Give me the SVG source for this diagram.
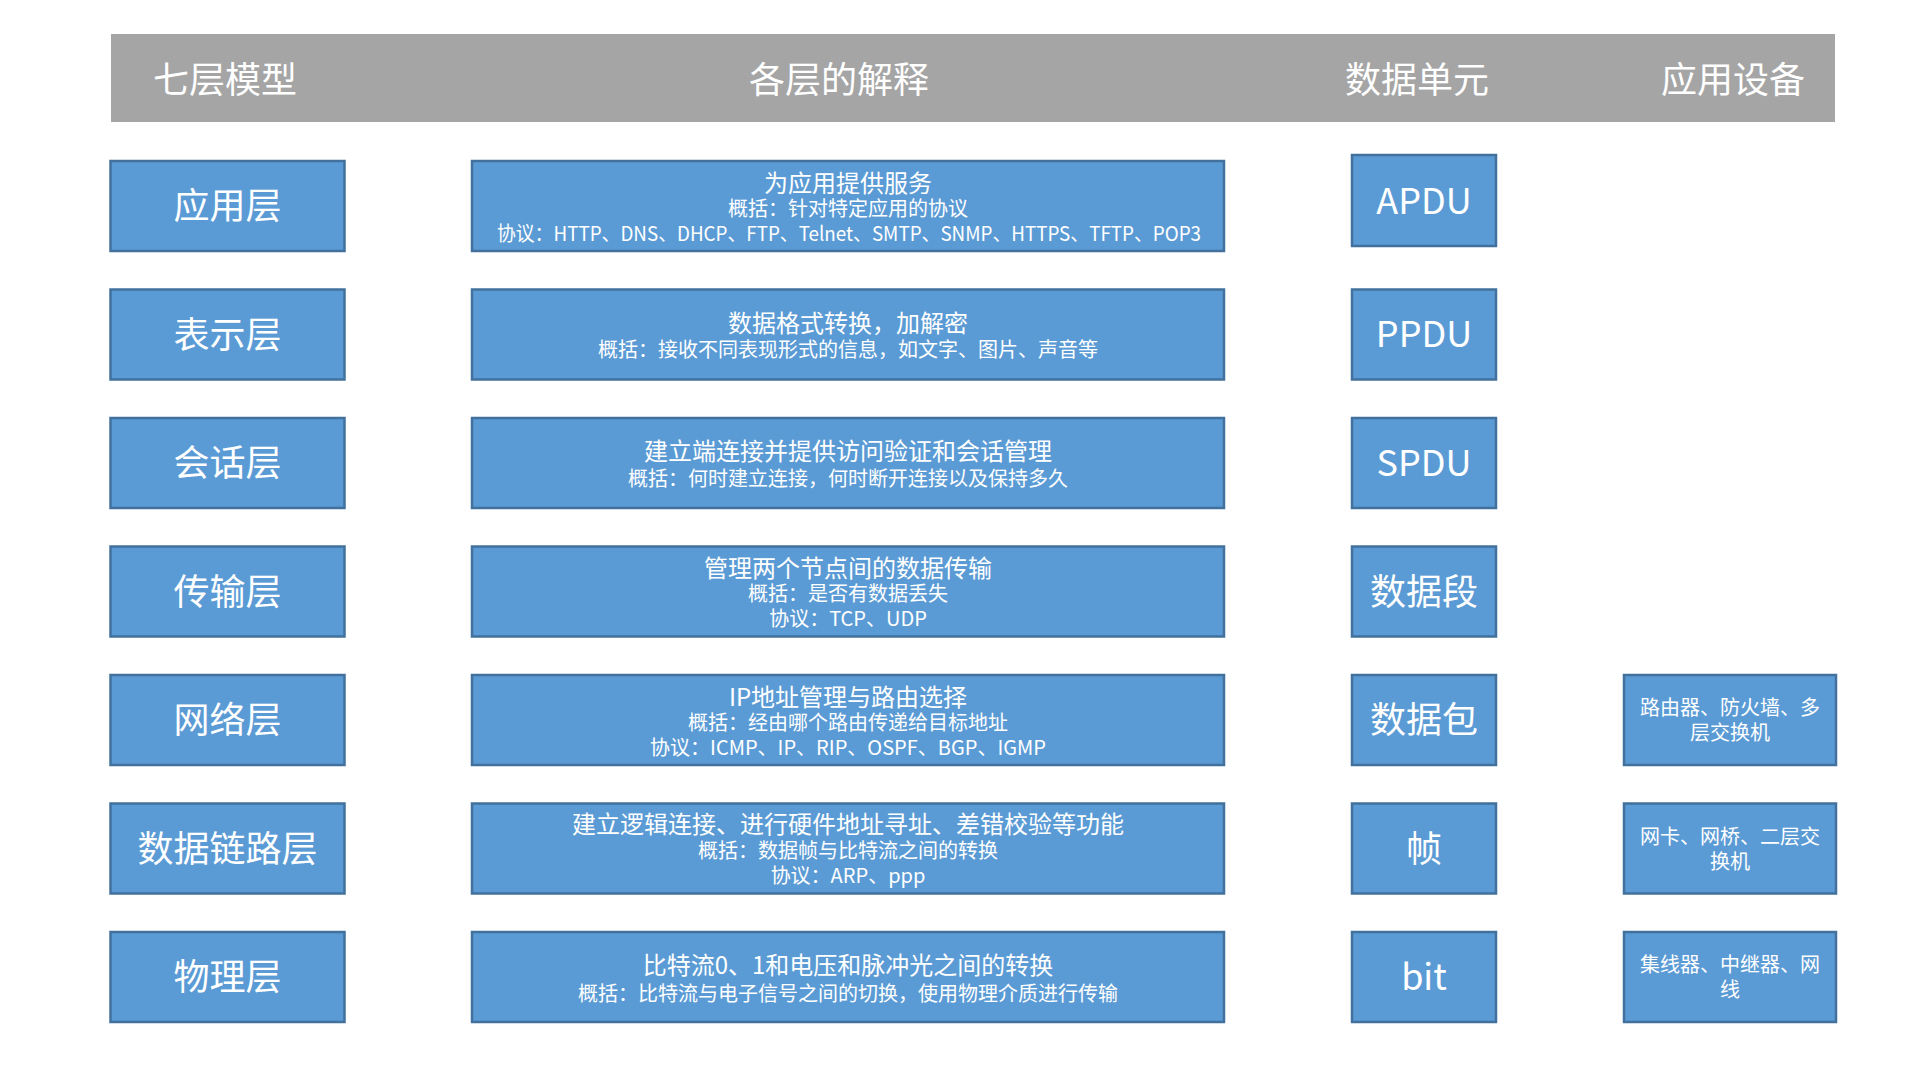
<svg xmlns="http://www.w3.org/2000/svg" width="1920" height="1080" viewBox="0 0 1920 1080">
<style>
text{font-family:"Noto Sans CJK SC","Noto Sans",sans-serif;fill:#FFFFFF;text-anchor:middle}
.box{fill:#5B9BD5;stroke:#41719C;stroke-width:2.5}
.hd{font-size:36px}
.lbl{font-size:36px}
.unit{font-size:36px}
.t1{font-size:24px}
.t2{font-size:20px}
.dev{font-size:20px}
</style>
<rect id="header" x="111" y="34" width="1724" height="88" fill="#A5A5A5"/>
<g id="header-text">
<text class="hd" x="225" y="92.5">七层模型</text>
<text class="hd" x="839" y="92.5">各层的解释</text>
<text class="hd" x="1417" y="92.5">数据单元</text>
<text class="hd" x="1733" y="92.5">应用设备</text>
</g>
<g id="connectors"></g>
<!-- Row 1 -->
<g id="layer-app"><rect class="box" x="110.5" y="161" width="234" height="90"/><text class="lbl" x="227.5" y="219">应用层</text></g>
<g id="desc-app"><rect class="box" x="472" y="161" width="752" height="90"/>
<text class="t1" x="848" y="191.5">为应用提供服务</text>
<text class="t2" x="848" y="215.6">概括：针对特定应用的协议</text>
<text class="t2" x="849" y="240.6" textLength="704" lengthAdjust="spacingAndGlyphs">协议：HTTP、DNS、DHCP、FTP、Telnet、SMTP、SNMP、HTTPS、TFTP、POP3</text></g>
<g id="unit-app"><rect class="box" x="1352" y="155" width="144" height="91"/><text class="unit" x="1424" y="213.5">APDU</text></g>
<!-- Row 2 -->
<g id="layer-pres"><rect class="box" x="110.5" y="289.5" width="234" height="90"/><text class="lbl" x="227.5" y="347.5">表示层</text></g>
<g id="desc-pres"><rect class="box" x="472" y="289.5" width="752" height="90"/>
<text class="t1" x="848" y="331.5">数据格式转换，加解密</text>
<text class="t2" x="848" y="357">概括：接收不同表现形式的信息，如文字、图片、声音等</text></g>
<g id="unit-pres"><rect class="box" x="1352" y="289.5" width="144" height="90"/><text class="unit" x="1424" y="347">PPDU</text></g>
<!-- Row 3 -->
<g id="layer-sess"><rect class="box" x="110.5" y="418" width="234" height="90"/><text class="lbl" x="227.5" y="476">会话层</text></g>
<g id="desc-sess"><rect class="box" x="472" y="418" width="752" height="90"/>
<text class="t1" x="848" y="460">建立端连接并提供访问验证和会话管理</text>
<text class="t2" x="848" y="485.5">概括：何时建立连接，何时断开连接以及保持多久</text></g>
<g id="unit-sess"><rect class="box" x="1352" y="418" width="144" height="90"/><text class="unit" x="1424" y="475.5">SPDU</text></g>
<!-- Row 4 -->
<g id="layer-trans"><rect class="box" x="110.5" y="546.5" width="234" height="90"/><text class="lbl" x="227.5" y="604.5">传输层</text></g>
<g id="desc-trans"><rect class="box" x="472" y="546.5" width="752" height="90"/>
<text class="t1" x="848" y="577">管理两个节点间的数据传输</text>
<text class="t2" x="848" y="601.1">概括：是否有数据丢失</text>
<text class="t2" x="848" y="626.1">协议：TCP、UDP</text></g>
<g id="unit-trans"><rect class="box" x="1352" y="546.5" width="144" height="90"/><text class="unit" x="1424" y="604.5">数据段</text></g>
<!-- Row 5 -->
<g id="layer-net"><rect class="box" x="110.5" y="675" width="234" height="90"/><text class="lbl" x="227.5" y="733">网络层</text></g>
<g id="desc-net"><rect class="box" x="472" y="675" width="752" height="90"/>
<text class="t1" x="848" y="705.5">IP地址管理与路由选择</text>
<text class="t2" x="848" y="729.6">概括：经由哪个路由传递给目标地址</text>
<text class="t2" x="848" y="754.6">协议：ICMP、IP、RIP、OSPF、BGP、IGMP</text></g>
<g id="unit-net"><rect class="box" x="1352" y="675" width="144" height="90"/><text class="unit" x="1424" y="733">数据包</text></g>
<g id="dev-net"><rect class="box" x="1624" y="675" width="212" height="90"/>
<text class="dev" x="1730" y="715">路由器、防火墙、多</text>
<text class="dev" x="1730" y="740">层交换机</text></g>
<!-- Row 6 -->
<g id="layer-link"><rect class="box" x="110.5" y="803.5" width="234" height="90"/><text class="lbl" x="227.5" y="861.5">数据链路层</text></g>
<g id="desc-link"><rect class="box" x="472" y="803.5" width="752" height="90"/>
<text class="t1" x="848" y="833">建立逻辑连接、进行硬件地址寻址、差错校验等功能</text>
<text class="t2" x="848" y="857.6">概括：数据帧与比特流之间的转换</text>
<text class="t2" x="848" y="882.6">协议：ARP、ppp</text></g>
<g id="unit-link"><rect class="box" x="1352" y="803.5" width="144" height="90"/><text class="unit" x="1424" y="861.5">帧</text></g>
<g id="dev-link"><rect class="box" x="1624" y="803.5" width="212" height="90"/>
<text class="dev" x="1730" y="843.5">网卡、网桥、二层交</text>
<text class="dev" x="1730" y="868.5">换机</text></g>
<!-- Row 7 -->
<g id="layer-phys"><rect class="box" x="110.5" y="932" width="234" height="90"/><text class="lbl" x="227.5" y="990">物理层</text></g>
<g id="desc-phys"><rect class="box" x="472" y="932" width="752" height="90"/>
<text class="t1" x="848" y="974">比特流0、1和电压和脉冲光之间的转换</text>
<text class="t2" x="848" y="1000.6">概括：比特流与电子信号之间的切换，使用物理介质进行传输</text></g>
<g id="unit-phys"><rect class="box" x="1352" y="932" width="144" height="90"/><text class="unit" x="1424" y="990">bit</text></g>
<g id="dev-phys"><rect class="box" x="1624" y="932" width="212" height="90"/>
<text class="dev" x="1730" y="972">集线器、中继器、网</text>
<text class="dev" x="1730" y="997">线</text></g>
</svg>
